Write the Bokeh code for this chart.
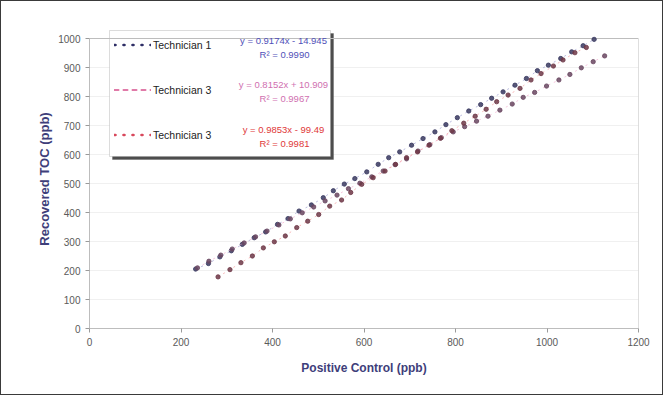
from bokeh.plotting import figure
from bokeh.models import (Range1d, FixedTicker, Legend, LegendItem, Label,
                          ColumnDataSource, BoxAnnotation)
from bokeh.embed import file_html
from bokeh.resources import INLINE

# ---- data ----
tech1_x = [232, 260, 285, 310, 334, 360, 385, 411, 434, 458, 485, 511, 533, 557, 580, 606,
           631, 654, 678, 704, 729, 755, 779, 804, 829, 855, 879, 904, 930, 955, 979, 1003,
           1030, 1054, 1079, 1103]
tech1_y = [205, 224, 247, 268, 290, 313, 333, 359, 379, 405, 426, 451, 475, 498, 517, 540,
           566, 589, 609, 632, 655, 678, 703, 727, 750, 772, 794, 816, 839, 862, 889, 908,
           931, 954, 975, 997]

tech2_x = [236, 261, 287, 312, 338, 363, 388, 414, 439, 465, 490, 515, 541, 566, 591, 617,
           642, 668, 693, 718, 744, 769, 795, 820, 846, 871, 897, 924, 948, 973, 999, 1026,
           1050, 1075, 1101, 1126]
tech2_y = [209, 232, 253, 274, 295, 316, 336, 357, 378, 399, 419, 440, 460, 482, 501, 523,
           543, 565, 585, 612, 634, 658, 678, 696, 715, 732, 753, 774, 797, 814, 836, 857,
           876, 899, 920, 940]

tech3_x = [281, 307, 331, 356, 380, 404, 428, 453, 477, 501, 525, 551, 571, 595, 620, 646,
           669, 693, 717, 742, 767, 792, 818, 843, 867, 890, 915, 941, 965, 987, 1014, 1035,
           1061, 1086]
tech3_y = [178, 203, 227, 250, 278, 299, 319, 348, 370, 393, 422, 443, 469, 497, 520, 543,
           566, 589, 609, 632, 656, 682, 708, 732, 756, 782, 805, 828, 857, 879, 905, 926,
           951, 969]

series_names = ["Technician 1", "Technician 3", "Technician 3"]
equations = ["y = 0.9174x - 14.945", "y = 0.8152x + 10.909", "y = 0.9853x - 99.49"]
r_squared = ["R\u00b2 = 0.9990", "R\u00b2 = 0.9967", "R\u00b2 = 0.9981"]
x_ticks = [0, 200, 400, 600, 800, 1000, 1200]
y_ticks = [0, 100, 200, 300, 400, 500, 600, 700, 800, 900, 1000]

# ---- styling ----
marker_cols = ["#3a3a60", "#6a4862", "#6e3848"]
line_cols = ["#8c8cc8", "#f0a0c8", "#f08a8a"]
legend_cols = ["#2e2e66", "#e07aa8", "#d8485c"]
eq_cols = ["#5050b8", "#d070b0", "#e03838"]
FONT = "Liberation Sans"

# layout (pixels): frame left 88, right 637, top 28, bottom 327; value 1000 at pixel row 37
W, H = 663, 395
F_L, F_R, F_T, F_B = 88, 637, 28, 327
X_MAX = x_ticks[-1]
Y_TOP_VAL = y_ticks[-1]
PX_PER_Y = (F_B - 37) / Y_TOP_VAL
Y_END = (F_B - F_T) / PX_PER_Y
PX_PER_X = (F_R - F_L) / X_MAX


def dx(px):
    return (px - F_L) / PX_PER_X


def dy(py):
    return (F_B - py) / PX_PER_Y


p = figure(width=W, height=H, output_backend="svg", toolbar_location=None,
           x_range=Range1d(0, X_MAX), y_range=Range1d(0, Y_END),
           min_border_left=F_L, min_border_right=W - F_R, min_border_top=F_T,
           min_border_bottom=H - F_B)
p.extra_y_ranges = {"offscreen": Range1d(-9000, -8000)}
p.background_fill_color = "white"
p.border_fill_color = "white"
p.outline_line_color = None
p.styles = {"border": "1px solid #3a3a3a", "box-sizing": "border-box"}

p.xgrid.grid_line_color = None
p.ygrid.grid_line_color = "#f0f0f0"
p.yaxis.ticker = FixedTicker(ticks=y_ticks)
p.xaxis.ticker = FixedTicker(ticks=x_ticks)
p.ygrid.ticker = FixedTicker(ticks=y_ticks)
p.yaxis.bounds = (0, Y_TOP_VAL)

for ax in (p.xaxis[0], p.yaxis[0]):
    ax.axis_line_color = "#bdbdbd"
    ax.major_tick_line_color = "#9a9a9a"
    ax.major_tick_out = 4
    ax.major_tick_in = 0
    ax.minor_tick_line_color = None
    ax.major_label_text_font = FONT
    ax.major_label_text_font_size = "10px"
    ax.major_label_text_color = "#5a5a5a"
    ax.axis_label_text_font = FONT
    ax.axis_label_text_font_style = "bold"
    ax.axis_label_text_color = "#3e3e7a"
    ax.major_label_standoff = 5

p.xaxis.axis_label = "Positive Control (ppb)"
p.yaxis.axis_label = "Recovered TOC (ppb)"
p.xaxis.axis_label_text_font_size = "12px"
p.yaxis.axis_label_text_font_size = "13px"
p.xaxis.axis_label_standoff = 12
p.yaxis.axis_label_standoff = 3

# plot-area border on top and right (light gray)
p.segment(x0=[0, X_MAX], y0=[Y_TOP_VAL, 0], x1=[X_MAX, X_MAX], y1=[Y_TOP_VAL, Y_TOP_VAL],
          line_color="#bdbdbd", line_width=1)

xs = [tech1_x, tech2_x, tech3_x]
ys = [tech1_y, tech2_y, tech3_y]
dashes = ["1 8", "4 5", "1 8"]
widths = [2.6, 2, 2.6]
leg_items = []
for i in range(3):
    src = ColumnDataSource(dict(x=xs[i], y=ys[i]))
    p.line("x", "y", source=src, line_color=line_cols[i], line_dash="dotted",
           line_width=1, line_alpha=0.6)
    p.scatter("x", "y", source=src, size=4.3, marker="circle",
              fill_color=marker_cols[i], line_color=marker_cols[i], alpha=0.85)
    # key glyph: same data, mapped off screen, only drawn in the legend
    key = p.line("x", "y", source=src, y_range_name="offscreen", line_color=legend_cols[i],
                 line_width=widths[i], line_dash=dashes[i], line_cap="round")
    leg_items.append(LegendItem(label=series_names[i], renderers=[key]))

# legend box with shadow
p.add_layout(BoxAnnotation(left=dx(111), right=dx(332), top=dy(32), bottom=dy(158),
                           fill_color="#4d4d4d", fill_alpha=1.0, line_color="#4d4d4d",
                           level="underlay"))
p.add_layout(BoxAnnotation(left=dx(108), right=dx(329), top=dy(29), bottom=dy(155),
                           fill_color="white", fill_alpha=1.0, line_color="#8a8a8a",
                           line_width=1, level="underlay"))

legend = Legend(items=leg_items, location=(113 - F_L, F_B - 153), padding=0, spacing=6,
                label_height=39, glyph_height=39, glyph_width=37, label_standoff=2,
                label_width=170, label_text_font=FONT, label_text_font_size="10.5px",
                label_text_color="#222222", margin=0, background_fill_alpha=0.0,
                border_line_color=None)
p.add_layout(legend, "center")

eq_centers_y = [46, 90, 135]  # pixel rows of the equation pairs
for i in range(3):
    cy = eq_centers_y[i]
    p.add_layout(Label(x=dx(282), y=dy(cy - 7), text=equations[i], text_align="center",
                       text_baseline="middle", text_font=FONT, text_font_size="9.5px",
                       text_color=eq_cols[i]))
    p.add_layout(Label(x=dx(283), y=dy(cy + 7), text=r_squared[i], text_align="center",
                       text_baseline="middle", text_font=FONT, text_font_size="9.5px",
                       text_color=eq_cols[i]))

open("out.html", "w").write(file_html(p, INLINE))
